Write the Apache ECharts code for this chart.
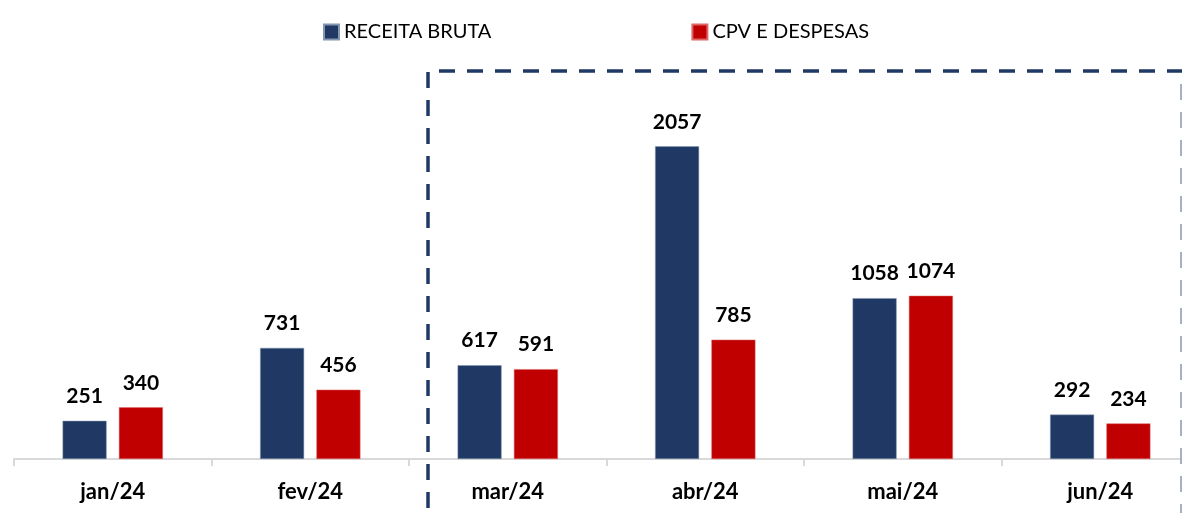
<!DOCTYPE html>
<html>
<head>
<meta charset="utf-8">
<script src="https://cdn.jsdelivr.net/npm/echarts@6/dist/echarts.min.js"></script>
<style>
  html, body { margin: 0; padding: 0; background: #fff; overflow: hidden; }
  /* the plot runs a bit past the right edge of the window, like the original */
  #chart { width: 1200px; height: 513px; }
</style>
</head>
<body>
<div id="chart"></div>
<script>
const months = ['jan/24', 'fev/24', 'mar/24', 'abr/24', 'mai/24', 'jun/24'];
const receitaBruta = [251, 731, 617, 2057, 1058, 292];
const cpvDespesas = [340, 456, 591, 785, 1074, 234];

const BLUE = '#203864';
const RED = '#C00000';
const FONT = 'Lato';

let chart = echarts.init(document.getElementById('chart'));

// moldura tracejada em volta de mar..jun
const dash = { stroke: BLUE, lineWidth: 3.5, lineDash: [16, 12] };

const valueLabel = {
  show: true, position: 'top', distance: 14,
  fontSize: 21, fontWeight: 'bold', color: '#000', fontFamily: FONT
};

let option = {
  animation: false,
  textStyle: { fontFamily: FONT },
  legend: {
    top: 17,
    left: 318,
    itemWidth: 15,
    itemHeight: 15,
    itemGap: 200,
    icon: 'rect',
    textStyle: { fontSize: 20, color: '#000', fontFamily: FONT },
    data: ['RECEITA BRUTA', 'CPV E DESPESAS']
  },
  grid: { left: 14, right: 1, top: 79, bottom: 54, containLabel: false },
  xAxis: {
    type: 'category',
    data: months,
    axisLine: { lineStyle: { color: '#d9d9d9', width: 2 } },
    axisTick: { show: true, length: 7, lineStyle: { color: '#d9d9d9', width: 2 } },
    axisLabel: { fontSize: 22, fontWeight: 'bold', color: '#000', margin: 22, fontFamily: FONT }
  },
  yAxis: {
    type: 'value',
    min: 0,
    max: 2500,
    show: false,
    splitLine: { show: false }
  },
  series: [
    {
      name: 'RECEITA BRUTA',
      type: 'bar',
      data: receitaBruta,
      barWidth: 44,
      barGap: '28%',
      itemStyle: { color: BLUE, borderColor: '#8496b0', borderWidth: 0.5 },
      label: valueLabel
    },
    {
      name: 'CPV E DESPESAS',
      type: 'bar',
      data: cpvDespesas,
      barWidth: 44,
      itemStyle: { color: RED, borderColor: '#e06666', borderWidth: 0.5 },
      label: valueLabel
    }
  ],
  graphic: [
    { type: 'line', shape: { x1: 428, y1: 72, x2: 428, y2: 513 }, style: dash, z: 10 },
    { type: 'line', shape: { x1: 439, y1: 71, x2: 1182, y2: 71 }, style: dash, z: 10 },
    { type: 'line', shape: { x1: 1181, y1: 84, x2: 1181, y2: 513 }, style: { stroke: '#a6b0c3', lineWidth: 2, lineDash: [16, 12] }, z: 10 }
  ]
};

option && chart.setOption(option);
</script>
</body>
</html>
